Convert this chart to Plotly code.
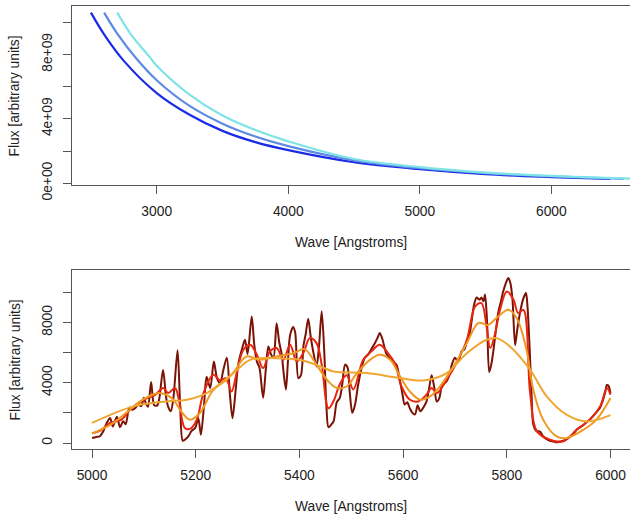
import plotly.graph_objects as go

# ---------------- top panel data (flux in units of 1e9) ----------------
wave_blue = [2500, 2600, 2750, 3000, 3250, 3500, 3750, 4000, 4500, 5000, 5500, 6000, 6450]
flux_blue = [10.6, 9.25, 7.6, 5.6, 4.25, 3.25, 2.55, 2.05, 1.3, 0.87, 0.56, 0.38, 0.26]

wave_corn = [2600, 2700, 2850, 3000, 3250, 3500, 3750, 4000, 4500, 5000, 5500, 6000, 6550]
flux_corn = [10.6, 9.3, 7.7, 6.4, 4.8, 3.7, 2.9, 2.3, 1.42, 0.93, 0.62, 0.42, 0.27]

wave_cyan = [2700, 2800, 2950, 3000, 3250, 3500, 3750, 4000, 4500, 5000, 5500, 6000, 6650]
flux_cyan = [10.6, 9.3, 7.8, 7.3, 5.5, 4.2, 3.3, 2.6, 1.5, 1.0, 0.66, 0.45, 0.27]

# ---------------- bottom panel data ----------------
wave_raw = [5000, 5008, 5015, 5022, 5028, 5035, 5040, 5048, 5054, 5060, 5065, 5072, 5078, 5083, 5089,
            5095, 5100, 5104, 5108, 5114, 5120, 5126, 5130, 5137, 5143, 5147, 5152, 5157, 5165, 5170,
            5175, 5180, 5185, 5192, 5199, 5205, 5210, 5216, 5221, 5228, 5235, 5241, 5247, 5253, 5260,
            5266, 5271, 5277, 5282, 5289, 5295, 5300, 5308, 5313, 5318, 5323, 5330, 5335, 5340, 5345,
            5350, 5356, 5361, 5366, 5370, 5374, 5378, 5382, 5388, 5392, 5398, 5403, 5408, 5412, 5417,
            5422, 5427, 5433, 5438, 5443, 5448, 5452, 5456, 5461, 5466, 5472, 5478, 5483, 5488, 5493,
            5497, 5502, 5507, 5513, 5520, 5526, 5533, 5540, 5546, 5551, 5555, 5560, 5568, 5575, 5580,
            5587, 5594, 5599, 5603, 5608, 5613, 5618, 5623, 5628, 5633, 5638, 5645, 5650, 5655, 5660,
            5665, 5670, 5675, 5684, 5690, 5694, 5700, 5706, 5713, 5718, 5723, 5728, 5732, 5737, 5742,
            5747, 5751, 5755, 5758, 5762, 5766, 5770, 5774, 5779, 5784, 5788, 5793, 5798, 5803, 5807,
            5811, 5816, 5820, 5826, 5832, 5837, 5840, 5844, 5848, 5851, 5857, 5864, 5870, 5877, 5883,
            5890, 5896, 5903, 5909, 5915, 5922, 5928, 5935, 5941, 5948, 5954, 5960, 5967, 5973, 5980,
            5985, 5990, 5993, 5996, 6000]
flux_raw = [330, 400, 450, 800, 1300, 1660, 1100, 1750, 1050, 1450, 1250, 2350, 2200, 2300, 2550,
            2450, 3000, 2600, 2400, 4050, 2500, 2500, 3000, 4850, 3000, 2400, 2100, 3000, 6150, 2500,
            150, 250, 400, 800, 1000, 1650, 550, 2500, 4400, 3650, 5400, 4300, 3950, 4800, 5650,
            3200, 1650, 3500, 5200, 6200, 6850, 5900, 8400, 6500, 5400, 5000, 3000, 4800, 6400, 5900,
            5650, 7950, 6700, 5850, 4500, 3550, 5500, 7150, 7700, 7300, 4300, 4500, 6500, 7200, 8250,
            7000, 6000, 5100, 6500, 8750, 6000, 2500, 1050, 1200, 1450, 2700, 3000, 4000, 5200, 5000,
            3400, 2000, 2500, 3800, 5000, 5650, 5900, 6300, 6650, 7000, 7300, 6900, 5900, 5600, 5400,
            5200, 4100, 3200, 2550, 2700, 2300, 2000, 1900, 2500, 2100, 2300, 2750, 3600, 4500, 3700,
            2750, 3000, 3800, 4100, 4600, 5200, 5650, 5400, 6100, 6200, 6750, 7200, 8050, 9200, 9650,
            9500, 9650, 9400, 9850, 8000, 4700, 5200, 6100, 7500, 8750, 9300, 10050, 10600, 10950, 10600,
            9500, 6500, 7500, 8750, 9600, 9950, 9000, 6300, 3000, 1250, 800, 750, 450, 250, 150,
            100, 50, 100, 150, 250, 400, 600, 900, 1050, 1200, 1400, 1550, 1800, 2050, 2350,
            2800, 3400, 3850, 3800, 3300]

wave_red = [5000, 5015, 5035, 5057, 5073, 5090, 5106, 5122, 5137, 5147, 5160, 5168, 5179, 5190, 5202,
            5215, 5234, 5247, 5258, 5269, 5280, 5292, 5305, 5318, 5330, 5343, 5356, 5369, 5382, 5395,
            5408, 5420, 5433, 5443, 5456, 5466, 5478, 5491, 5504, 5523, 5539, 5555, 5571, 5584, 5597,
            5613, 5629, 5645, 5655, 5665, 5684, 5703, 5723, 5739, 5751, 5761, 5768, 5777, 5787, 5800,
            5813, 5822, 5832, 5845, 5858, 5883, 5909, 5935, 5960, 5980, 5993, 6000]
flux_red = [650, 800, 1330, 1550, 2210, 2650, 2980, 3200, 3650, 3310, 3650, 2800, 1000, 950, 1550,
            3310, 4530, 4150, 4300, 3420, 4800, 6190, 6520, 5850, 4970, 6080, 6300, 5520, 6520, 5410,
            6000, 6960, 6630, 5190, 2300, 2800, 3900, 4500, 3550, 5520, 6080, 6520, 5960, 5300, 3750,
            2870, 2760, 3200, 3650, 3310, 4200, 5300, 6850, 9060, 9280, 7730, 6300, 7200, 8840, 10050,
            9500, 8620, 8840, 3310, 770, 220, 110, 880, 1550, 2430, 3650, 3200]

wave_or1 = [5000, 5040, 5073, 5090, 5110, 5129, 5143, 5157, 5172, 5189, 5208, 5234, 5260, 5272, 5298,
            5324, 5356, 5388, 5410, 5427, 5453, 5472, 5491, 5511, 5536, 5555, 5575, 5594, 5613, 5633,
            5652, 5671, 5697, 5723, 5745, 5764, 5780, 5803, 5819, 5838, 5851, 5870, 5896, 5915, 5948,
            5973, 6000]
flux_or1 = [620, 1300, 2210, 2700, 3100, 3310, 3200, 2870, 2100, 1550, 1990, 3530, 4200, 4640, 5740,
            5520, 5740, 5960, 6230, 5520, 4200, 3650, 3750, 4640, 5520, 5850, 5520, 4420, 3420, 2870,
            3090, 3750, 5080, 6630, 7960, 7840, 8290, 8840, 8290, 6190, 3530, 1550, 440, 330, 880,
            1550, 2980]

wave_or2 = [5000, 5080, 5144, 5183, 5221, 5273, 5305, 5356, 5401, 5440, 5466, 5530, 5594, 5639, 5684,
            5723, 5761, 5780, 5806, 5845, 5877, 5915, 5954, 6000]
flux_or2 = [1330, 2430, 2760, 2870, 3310, 4640, 5520, 5630, 5520, 5080, 4750, 4640, 4310, 4150, 4640,
            5960, 6850, 6960, 6410, 4860, 3090, 1880, 1430, 1850]

# tick labels
top_tickvals = [0, 2, 4, 6, 8, 10]
top_ticktext = ["0e+00", "", "4e+09", "", "8e+09", ""]
bot_tickvals = [0, 2000, 4000, 6000, 8000, 10000]
bot_ticktext = ["0", "", "4000", "", "8000", ""]

FONT = "Liberation Sans, Arial, Helvetica, sans-serif"
AX = "#555555"

fig = go.Figure()

def add(x, y, color, xa, ya, w=2.2, smooth=1.0):
    fig.add_trace(go.Scatter(x=x, y=y, mode="lines", xaxis=xa, yaxis=ya,
                             line=dict(color=color, width=w, shape="spline", smoothing=smooth),
                             showlegend=False, hoverinfo="skip"))

add(wave_blue, flux_blue, "#1A2BE6", "x", "y")
add(wave_corn, flux_corn, "#5C8AE6", "x", "y")
add(wave_cyan, flux_cyan, "#7EE3E6", "x", "y")

add(wave_raw, flux_raw, "#7A1205", "x2", "y2", w=2.0, smooth=0.8)
add(wave_red, flux_red, "#E8260E", "x2", "y2", w=2.0)
add(wave_or1, flux_or1, "#EE9A22", "x2", "y2", w=2.0)
add(wave_or2, flux_or2, "#F0A630", "x2", "y2", w=2.0)

H = 518
mt, mb = 6, 68.7
ph = H - mt - mb
top_dom = [(H - 185.3 - mb) / ph, 1.0]
bot_dom = [0.0, (449.3 - 270) / ph]

TF = dict(family=FONT, size=13.8, color="#222222")
axcommon = dict(showgrid=False, zeroline=False, showline=True, linecolor=AX, linewidth=1,
                ticks="outside", ticklen=8, tickcolor=AX, tickwidth=1, tickfont=TF)

fig.update_layout(
    width=630, height=518,
    margin=dict(l=72, r=0, t=mt, b=mb),
    paper_bgcolor="white", plot_bgcolor="white",
    xaxis=dict(domain=[0, 1], anchor="y", range=[2356, 6598], mirror=True,
               tickvals=[3000, 4000, 5000, 6000], ticklabelstandoff=5, **axcommon),
    yaxis=dict(domain=top_dom, anchor="x", range=[-0.124, 11.01], ticklabelstandoff=5,
               tickvals=top_tickvals, ticktext=top_ticktext, tickangle=-90, **axcommon),
    xaxis2=dict(domain=[0, 1], anchor="y2", range=[4961.4, 6037.6], mirror=True,
                tickvals=[5000, 5200, 5400, 5600, 5800, 6000], ticklabelstandoff=5, **axcommon),
    yaxis2=dict(domain=bot_dom, anchor="x2", range=[-398, 11492], ticklabelstandoff=5,
                tickvals=bot_tickvals, ticktext=bot_ticktext, tickangle=-90, **axcommon),
)

for ytxt in [243, 506.7]:
    fig.add_annotation(text="Wave [Angstroms]", xref="paper", yref="paper",
                       x=(351 - 72) / 558, y=(H - mb - ytxt) / ph,
                       showarrow=False, font=TF, xanchor="center", yanchor="middle")
for ycen in [95.6, 359.7]:
    fig.add_annotation(text="Flux [arbitrary units]", xref="paper", yref="paper",
                       x=(15 - 72) / 558, y=(H - mb - ycen) / ph, textangle=-90,
                       showarrow=False, font=TF, xanchor="center", yanchor="middle")

fig.write_html("out.html")
